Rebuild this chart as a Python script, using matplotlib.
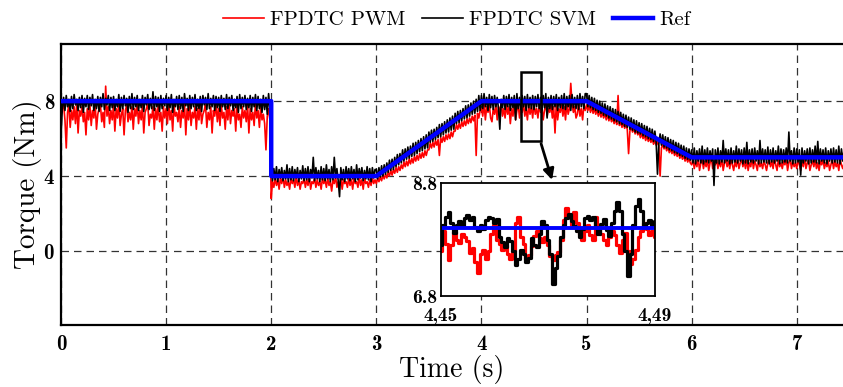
#!/usr/bin/env python3
"""Torque response of FPDTC PWM / SVM against the reference, with zoom inset."""

import matplotlib.pyplot as plt
import numpy as np
from matplotlib.lines import Line2D
from matplotlib.patches import Rectangle

dt = 0.0125

# FPDTC SVM torque (Nm), one row per 0.25 s
svm = [
    6.2, 7.6, 8.2, 7.5, 8.3, 7.7, 8.1, 7.45, 8.25, 7.6, 8.35, 7.8, 8.1, 7.5, 8.2, 7.65, 8.3, 7.4, 8.15, 7.7,
    8.3, 7.55, 8.2, 7.75, 8.35, 7.5, 8.1, 7.6, 8.25, 7.45, 8.2, 7.7, 8.4, 7.55, 8.15, 7.8, 8.3, 7.5, 8.2, 7.65,
    8.25, 7.5, 8.1, 7.7, 8.35, 7.45, 8.2, 7.6, 8.3, 7.75, 8.15, 7.4, 8.25, 7.6, 8.4, 7.55, 8.2, 7.7, 8.3, 7.5,
    8.1, 7.65, 8.3, 7.45, 8.2, 7.8, 8.35, 7.55, 8.15, 7.6, 8.5, 7.5, 8.25, 7.7, 8.2, 7.45, 8.3, 7.6, 8.15, 7.75,
    8.3, 7.5, 8.2, 7.65, 8.35, 7.4, 8.1, 7.7, 8.25, 7.55, 8.3, 7.6, 8.2, 7.45, 8.4, 7.75, 8.15, 7.5, 8.3, 7.6,
    8.2, 7.7, 8.35, 7.5, 8.1, 7.6, 8.25, 7.45, 8.3, 7.8, 8.2, 7.55, 8.4, 7.6, 8.15, 7.7, 8.3, 7.5, 8.25, 7.65,
    8.2, 7.45, 8.3, 7.7, 8.15, 7.55, 8.35, 7.6, 8.2, 7.75, 8.3, 7.5, 8.1, 7.65, 8.25, 7.4, 8.35, 7.6, 8.2, 7.7,
    8.3, 7.55, 8.15, 7.65, 8.3, 7.45, 8.2, 7.7, 8.35, 7.5, 8.25, 7.6, 8.1, 7.4, 8.3, 7.55, 8.2, 7.3, 8.4, 7.6,
    4.3, 3.75, 4.4, 3.8, 4.5, 3.7, 4.35, 3.9, 4.45, 3.75, 4.3, 3.85, 4.6, 3.7, 4.4, 3.8, 4.5, 3.75, 4.35, 3.9,
    4.45, 3.7, 4.3, 3.85, 4.55, 3.75, 4.4, 3.8, 4.5, 3.7, 4.35, 3.9, 5.0, 3.75, 4.45, 3.85, 4.3, 3.7, 4.5, 3.8,
    4.4, 3.75, 4.6, 3.85, 4.35, 3.7, 4.5, 3.8, 5.0, 3.9, 4.4, 3.75, 2.9, 4.45, 3.8, 4.35, 3.7, 4.5, 3.85, 4.4,
    3.75, 4.5, 3.85, 4.35, 3.7, 4.6, 3.8, 4.4, 3.9, 4.45, 3.75, 4.3, 3.85, 4.5, 3.8, 4.4, 3.7, 4.45, 3.9, 4.35,
    4.35, 3.85, 4.45, 3.95, 4.55, 4.0, 4.6, 4.1, 4.7, 4.2, 4.85, 4.3, 4.9, 4.35, 5.0, 4.5, 5.15, 4.6, 5.2, 4.7,
    5.4, 4.8, 5.45, 4.9, 5.55, 4.95, 5.6, 5.05, 5.75, 5.1, 5.8, 5.2, 5.9, 5.3, 6.0, 5.35, 6.1, 5.45, 6.2, 5.5,
    6.35, 5.8, 6.45, 5.85, 6.5, 5.95, 6.6, 6.05, 6.75, 6.1, 6.8, 6.2, 6.9, 6.3, 7.0, 6.35, 7.1, 6.45, 7.2, 6.5,
    7.35, 6.8, 7.45, 6.85, 7.5, 6.95, 7.6, 7.05, 7.75, 7.1, 7.8, 7.2, 7.9, 7.3, 8.0, 7.35, 8.1, 7.45, 8.3, 7.5,
    8.3, 7.6, 8.4, 7.7, 8.2, 7.5, 8.35, 7.65, 8.25, 7.55, 8.3, 7.7, 8.2, 7.6, 6.5, 8.1, 7.65, 8.3, 7.55, 8.25,
    7.7, 8.35, 7.5, 8.2, 7.65, 8.3, 7.0, 8.4, 7.6, 8.2, 7.55, 8.3, 7.7, 8.25, 7.5, 8.35, 7.65, 8.2, 7.6, 8.3,
    7.55, 8.25, 7.7, 8.35, 7.6, 8.2, 7.5, 8.3, 7.65, 8.4, 7.1, 8.2, 7.6, 8.3, 7.55, 8.25, 7.7, 8.35, 7.5, 8.2,
    7.65, 8.3, 7.6, 8.4, 7.55, 8.25, 7.7, 8.3, 7.5, 8.35, 7.65, 8.2, 7.6, 8.3, 7.55, 8.4, 7.7, 8.25, 7.6, 8.4,
    8.4, 7.7, 8.3, 7.65, 8.2, 7.55, 8.15, 7.5, 8.05, 7.4, 8.0, 7.35, 7.9, 7.25, 7.85, 7.2, 7.75, 7.1, 7.7, 7.05,
    7.6, 6.95, 7.55, 6.9, 7.45, 6.8, 7.4, 6.75, 7.3, 6.65, 7.25, 6.6, 7.15, 6.5, 7.1, 6.45, 7.0, 6.35, 6.95, 6.3,
    6.85, 6.25, 6.8, 6.15, 6.7, 6.1, 6.65, 6.0, 6.55, 5.95, 6.5, 5.85, 6.4, 5.8, 4.1, 5.7, 6.25, 5.65, 6.2, 5.55,
    6.1, 5.5, 6.05, 5.4, 5.95, 5.35, 5.9, 5.25, 5.8, 5.2, 5.75, 5.1, 5.65, 5.05, 5.6, 4.95, 5.5, 4.9, 5.45, 4.85,
    5.4, 4.7, 5.5, 4.65, 5.35, 4.8, 5.45, 4.7, 5.6, 4.65, 5.4, 4.75, 5.5, 4.7, 5.35, 4.8, 5.45, 3.5, 5.4, 4.7,
    5.5, 4.65, 5.35, 4.75, 5.9, 4.7, 5.45, 4.8, 5.4, 4.65, 5.5, 4.7, 5.35, 4.75, 5.6, 4.7, 5.45, 4.8, 5.4, 4.65,
    5.5, 4.7, 5.8, 4.65, 5.4, 4.75, 5.45, 4.7, 5.5, 4.8, 5.35, 4.65, 5.9, 4.7, 5.45, 4.75, 5.4, 4.7, 5.55, 4.65,
    5.4, 4.75, 5.5, 4.7, 5.35, 4.8, 5.6, 4.65, 5.45, 4.7, 5.4, 4.75, 5.5, 4.7, 6.35, 4.8, 5.35, 4.65, 5.5, 4.7,
    5.45, 4.75, 5.4, 4.05, 5.5, 4.7, 5.35, 4.8, 5.45, 4.65, 5.5, 4.7, 5.4, 4.75, 5.6, 4.7, 5.85, 4.65, 5.45, 4.8,
    5.4, 4.7, 5.5, 4.65, 5.35, 4.8, 5.45, 4.7, 5.5, 4.75, 5.4, 4.7, 5.6, 4.65, 5.45, 4.8, 5.4,
]

# FPDTC PWM torque (Nm), same sampling
pwm = [
    7.2, 7.6, 7.8, 7.0, 5.5, 7.4, 7.8, 6.6, 7.5, 7.0, 7.7, 6.8, 7.9, 6.3, 7.5, 7.2, 7.7, 6.9, 7.4, 6.2,
    7.6, 7.0, 7.8, 6.7, 7.5, 7.1, 7.9, 6.5, 7.3, 7.6, 7.8, 6.9, 7.4, 6.6, 8.8, 7.2, 7.7, 6.8, 7.5, 7.0,
    7.8, 6.4, 7.6, 7.1, 7.9, 6.7, 7.3, 7.6, 6.2, 7.5, 7.8, 6.9, 7.4, 7.0, 7.7, 6.5, 7.6, 7.2, 7.9, 6.8,
    7.5, 7.0, 7.8, 6.3, 7.4, 7.6, 7.9, 6.7, 7.3, 7.1, 7.7, 6.5, 7.6, 7.0, 7.8, 6.9, 7.4, 6.4, 7.7, 7.1,
    7.6, 6.8, 7.9, 7.0, 7.5, 6.4, 7.8, 7.2, 7.4, 6.9, 7.7, 6.6, 7.5, 7.1, 7.9, 6.2, 7.6, 7.0, 7.8, 6.7,
    7.4, 7.1, 7.7, 6.5, 7.6, 7.0, 7.9, 6.8, 7.3, 7.5, 7.8, 6.6, 7.4, 7.0, 7.7, 6.3, 7.5, 7.2, 7.9, 6.9,
    7.6, 6.7, 7.8, 7.1, 7.4, 6.5, 7.7, 7.0, 7.9, 6.8, 7.5, 7.2, 7.6, 6.4, 7.8, 7.0, 7.3, 6.6, 7.7, 7.1,
    7.5, 6.9, 7.8, 6.3, 7.6, 7.0, 7.4, 6.7, 7.9, 7.1, 7.5, 6.6, 7.7, 7.0, 7.3, 6.8, 5.4, 7.2, 7.6, 7.0,
    2.8, 3.7, 3.4, 3.9, 3.5, 3.8, 3.3, 3.9, 3.6, 4.0, 3.4, 3.8, 3.5, 3.7, 3.3, 3.9, 3.6, 3.8, 3.4, 4.0,
    3.5, 3.8, 3.3, 3.7, 3.6, 3.9, 3.4, 3.8, 3.5, 4.0, 3.3, 3.7, 3.6, 3.9, 3.4, 3.8, 3.5, 3.7, 3.3, 3.9,
    3.6, 3.8, 3.4, 3.9, 3.5, 3.7, 3.2, 3.8, 3.6, 4.0, 3.4, 3.7, 3.5, 3.9, 3.3, 3.8, 3.6, 3.7, 3.4, 3.9,
    3.5, 3.8, 3.3, 3.9, 3.6, 3.7, 3.4, 4.0, 3.5, 3.8, 3.3, 3.9, 3.6, 3.7, 3.4, 3.8, 3.5, 3.9, 3.6, 3.8,
    3.6, 3.9, 3.7, 3.95, 3.75, 4.05, 3.85, 4.1, 3.9, 4.2, 4.0, 4.3, 4.05, 4.35, 4.15, 4.45, 4.2, 4.5, 4.3, 4.6,
    4.4, 4.75, 4.5, 4.8, 4.55, 4.9, 4.65, 4.95, 4.7, 5.05, 4.8, 5.1, 4.85, 5.2, 4.95, 5.25, 5.0, 5.35, 5.1, 5.4,
    5.4, 5.75, 5.5, 5.8, 5.55, 5.9, 5.65, 5.95, 5.1, 6.05, 5.8, 6.1, 5.85, 6.2, 5.95, 6.25, 6.0, 6.35, 6.1, 6.4,
    6.4, 6.75, 6.5, 6.8, 6.55, 6.9, 6.65, 6.95, 6.7, 7.05, 6.8, 7.1, 6.85, 7.2, 6.95, 7.25, 5.1, 7.35, 7.1, 7.5,
    7.6, 7.2, 7.9, 7.0, 7.7, 7.4, 7.8, 7.1, 6.9, 7.6, 7.3, 7.8, 7.0, 7.7, 7.4, 7.9, 7.2, 7.6, 7.1, 7.8,
    7.3, 7.7, 6.8, 7.6, 7.2, 7.9, 7.0, 7.5, 7.8, 7.1, 7.7, 7.4, 7.9, 7.2, 7.6, 7.0, 7.8, 7.3, 7.7, 7.1,
    7.9, 7.3, 7.6, 7.1, 7.8, 7.4, 7.7, 7.0, 7.5, 7.9, 7.2, 7.6, 7.4, 7.8, 7.1, 7.7, 6.3, 7.9, 7.0, 7.6,
    7.4, 7.8, 7.2, 7.7, 7.0, 7.9, 7.3, 7.6, 8.95, 7.8, 7.4, 7.7, 7.1, 7.3, 7.9, 7.2, 7.6, 7.0, 7.8, 7.5,
    7.8, 7.5, 7.75, 7.4, 7.7, 7.35, 7.6, 7.3, 7.55, 7.2, 7.5, 7.15, 7.4, 7.1, 7.35, 7.0, 7.3, 6.95, 7.2, 6.9,
    7.1, 6.8, 7.05, 6.75, 8.3, 6.7, 6.9, 6.6, 6.85, 6.55, 6.75, 6.5, 5.2, 6.4, 6.65, 6.35, 6.55, 6.25, 6.5, 6.2,
    6.35, 6.05, 6.3, 6.0, 6.2, 5.9, 6.15, 5.85, 6.05, 5.8, 6.0, 5.7, 5.9, 5.65, 5.85, 5.6, 4.0, 5.5, 5.7, 5.45,
    5.6, 5.35, 5.55, 5.25, 5.45, 5.2, 5.4, 5.1, 5.3, 5.05, 5.25, 4.95, 5.15, 4.9, 5.1, 4.8, 5.0, 4.75, 4.95, 4.7,
    4.6, 4.9, 4.4, 4.8, 4.5, 5.0, 4.3, 4.7, 4.9, 4.4, 4.8, 4.5, 4.9, 4.3, 4.7, 5.0, 4.4, 4.8, 4.6, 4.9,
    4.4, 4.8, 4.5, 5.0, 4.3, 4.7, 4.9, 4.5, 4.8, 4.4, 4.9, 4.6, 4.3, 4.8, 4.5, 5.0, 4.4, 4.7, 4.9, 4.5,
    4.8, 4.4, 4.9, 4.3, 4.7, 4.5, 5.0, 4.4, 4.8, 4.6, 4.3, 4.9, 4.5, 4.7, 4.4, 4.8, 4.6, 4.3, 4.7, 4.9,
    4.5, 4.8, 4.4, 5.0, 4.6, 4.3, 4.9, 4.5, 4.7, 4.4, 4.8, 4.6, 5.0, 4.3, 4.7, 4.9, 4.4, 4.8, 4.5, 4.7,
    4.4, 4.9, 4.6, 4.3, 4.8, 4.5, 5.0, 4.4, 4.7, 4.9, 4.3, 4.6, 4.8, 4.5, 4.9, 4.4, 4.7, 4.3, 4.8, 4.6,
    4.9, 4.4, 4.7, 4.5, 4.8, 4.3, 4.6, 4.9, 4.4, 4.8, 4.5, 4.7, 4.3, 4.9, 4.6, 4.4, 4.7,
]

# reference torque breakpoints
ref_t = [0, 2, 2, 3, 4, 5, 6, 7.45]
ref_v = [8, 8, 4, 4, 8, 8, 5, 5]

# zoomed window 4.45 .. 4.49 s
zoom_dt = 0.0005
zoom_t0 = 4.45
svm_zoom = [
    7.70, 8.05, 8.20, 8.28, 8.10, 7.92, 8.05, 8.12, 8.02, 8.18,
    8.24, 8.15, 8.20, 8.02, 7.95, 8.06, 7.98, 8.14, 8.20, 8.18,
    8.10, 8.16, 7.84, 7.75, 7.66, 7.82, 7.78, 7.60, 7.34, 7.45,
    7.62, 7.55, 7.40, 7.48, 7.82, 7.70, 7.66, 7.90, 8.12, 8.05,
    7.80, 7.55, 7.02, 7.30, 7.50, 7.85, 8.05, 8.18, 8.25, 8.12,
    8.04, 7.95, 7.84, 7.98, 8.18, 8.22, 8.14, 8.20, 8.02, 7.90,
    8.08, 8.16, 7.96, 7.86, 8.10, 8.30, 8.47, 8.30, 7.90, 7.60,
    7.15, 7.55, 8.05, 8.40, 8.52, 8.30, 8.02, 8.10, 8.14, 8.04,
    8.12,
]
pwm_zoom = [
    7.60, 7.95, 7.72, 7.44, 7.70, 7.94, 7.80, 7.73, 7.90, 7.85,
    7.78, 7.56, 7.65, 7.40, 7.20, 7.55, 7.61, 7.45, 7.60, 7.90,
    8.05, 7.80, 7.72, 7.62, 7.70, 7.55, 7.45, 7.60, 8.10, 8.20,
    7.85, 7.72, 7.45, 7.52, 7.68, 7.86, 7.95, 7.82, 7.75, 7.85,
    7.70, 7.50, 7.44, 7.52, 7.58, 7.80, 8.15, 8.35, 8.20, 8.05,
    8.28, 8.10, 7.90, 7.80, 7.95, 8.05, 7.88, 7.80, 8.20, 8.05,
    7.90, 7.80, 7.70, 7.85, 7.95, 7.88, 7.70, 7.56, 7.80, 7.92,
    7.60, 7.37, 7.45, 7.62, 7.85, 7.95, 8.10, 7.98, 7.88, 7.95,
    7.85,
]

x_ticks = [0, 1, 2, 3, 4, 5, 6, 7]
y_ticks = [0, 4, 8]

RED = "#ff0000"
BLUE = "#0000ff"
SERIF = "cmr10"
BOLD = "cmb10"


def main() -> None:
    assert len(svm) == len(pwm)
    t = np.arange(len(svm)) * dt
    tz = zoom_t0 + np.arange(len(svm_zoom)) * zoom_dt

    fig = plt.figure(figsize=(8.43, 3.87), dpi=100)
    ax = fig.add_axes([61 / 843, 1 - 325 / 387, 1 - 61 / 843, (325 - 44) / 387])

    ax.plot(t, pwm, color=RED, linewidth=1.2, zorder=2)
    ax.plot(t, svm, color="black", linewidth=1.2, zorder=3)
    ax.plot(ref_t, ref_v, color=BLUE, linewidth=3.2, zorder=4)

    ax.set_xlim(0, 7.44)
    ax.set_ylim(-3.95, 11.05)
    ax.set_xticks(x_ticks)
    ax.set_xticklabels([str(v) for v in x_ticks], fontfamily=BOLD, fontsize=15)
    ax.set_yticks(y_ticks)
    ax.set_yticklabels([str(v) for v in y_ticks], fontfamily=BOLD, fontsize=15)
    ax.tick_params(axis="x", length=0, pad=7)
    ax.tick_params(axis="y", length=0, pad=5)
    ax.grid(True, color="#333333", linestyle=(0, (6, 4)), linewidth=0.9)
    for side in ("left", "bottom", "top"):
        ax.spines[side].set_linewidth(1.6)
    ax.spines["right"].set_visible(False)
    ax.set_xlabel("Time (s)", fontfamily=SERIF, fontsize=20)
    ax.xaxis.set_label_coords(0.5, -0.105)
    ax.set_ylabel("Torque (Nm)", fontfamily=SERIF, fontsize=21)
    ax.yaxis.set_label_coords(-0.024, 0.5)

    # zoom box and arrow
    ax.add_patch(Rectangle((4.38, 5.87), 0.19, 3.68, fill=False,
                           edgecolor="black", linewidth=1.8, zorder=6))
    ax.annotate("", xy=(4.68, 3.65), xytext=(4.56, 5.87),
                arrowprops=dict(arrowstyle="-|>", color="black", lw=2,
                                mutation_scale=16), zorder=6)

    handles = [
        Line2D([], [], color=RED, linewidth=1.2),
        Line2D([], [], color="black", linewidth=1.2),
        Line2D([], [], color=BLUE, linewidth=3.2),
    ]
    fig.legend(handles, ["FPDTC PWM", "FPDTC SVM", "Ref"], loc="center",
               bbox_to_anchor=(457 / 843, 1 - 20 / 387), ncol=3, frameon=False,
               prop={"family": SERIF, "size": 15}, handlelength=1.95,
               handletextpad=0.3, columnspacing=0.8)

    # inset
    axi = fig.add_axes([441 / 843, 1 - 296 / 387, 214 / 843, 113 / 387], zorder=5)
    axi.plot(tz, pwm_zoom, color=RED, linewidth=2.3, drawstyle="steps-mid")
    axi.plot(tz, svm_zoom, color="black", linewidth=2.3, drawstyle="steps-mid")
    axi.plot([4.45, 4.49], [8, 8], color=BLUE, linewidth=2.8)
    axi.set_xlim(4.45, 4.49)
    axi.set_ylim(6.8, 8.8)
    axi.set_xticks([4.45, 4.49])
    axi.set_xticklabels(["4,45", "4,49"], fontfamily=BOLD, fontsize=14)
    axi.set_yticks([6.8, 8.8])
    axi.set_yticklabels(["6.8", "8.8"], fontfamily=BOLD, fontsize=14)
    axi.tick_params(axis="x", length=0, pad=8)
    axi.tick_params(axis="y", length=0, pad=3)
    for sp in axi.spines.values():
        sp.set_linewidth(1.3)

    fig.savefig("out.png", dpi=100)
    plt.close(fig)


if __name__ == "__main__":
    main()
